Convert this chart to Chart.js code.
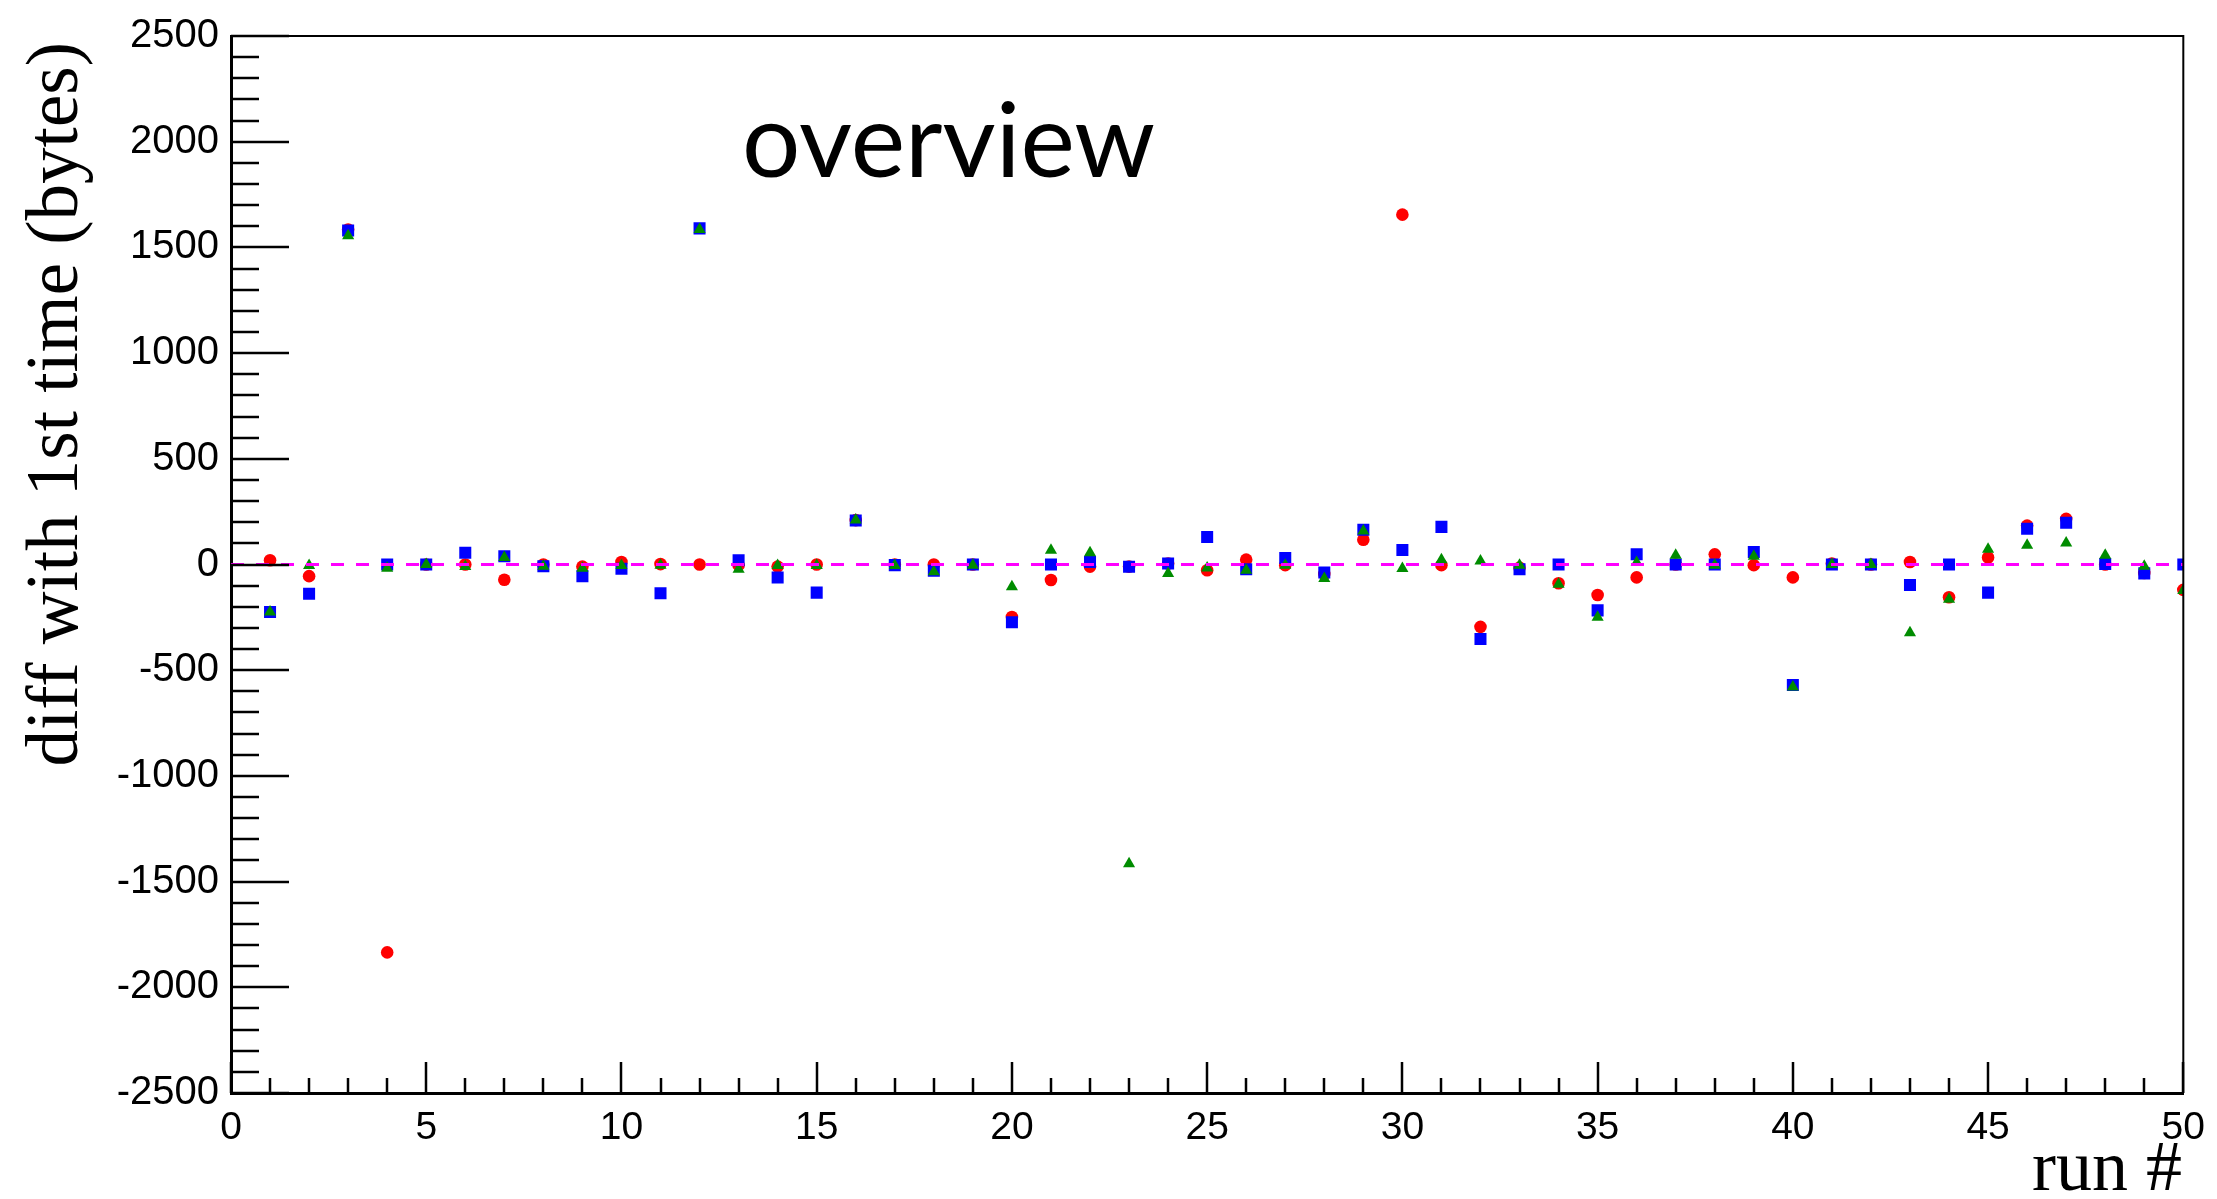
<!DOCTYPE html>
<html>
<head>
<meta charset="utf-8">
<script src="https://cdn.jsdelivr.net/npm/chart.js@4"></script>
<style>
  html, body { margin: 0; padding: 0; background: #fff; }
  #wrap { width: 2217px; height: 1199px; }
</style>
</head>
<body>
<div id="wrap"><canvas id="chart" width="2217" height="1199"></canvas></div>
<script>
// run numbers 1..50
const runs = [1, 2, 3, 4, 5, 6, 7, 8, 9, 10, 11, 12, 13, 14, 15, 16, 17, 18, 19, 20,
              21, 22, 23, 24, 25, 26, 27, 28, 29, 30, 31, 32, 33, 34, 35, 36, 37, 38, 39, 40,
              41, 42, 43, 44, 45, 46, 47, 48, 49, 50];

// red circles
const redDiff = [20, -55, 1585, -1835, 0, 0, -72, 0, -10, 12, 2, 0, -3, -10, 0, 210, 0, 0, 0, -248,
                 -73, -10, -10, 5, -27, 23, -3, -45, 117, 1655, -3, -295, -15, -89, -144, -61, 0, 48, -3, -61,
                 5, 0, 12, -155, 33, 184, 216, 0, -40, -120];

// blue squares
const blueDiff = [-225, -138, 1580, 0, 0, 56, 39, -8, -55, -20, -136, 1590, 20, -61, -133, 208, -3, -30, 0, -273,
                  0, 12, -11, 5, 130, -23, 31, -38, 164, 69, 178, -352, -23, 0, -217, 48, 0, 0, 59, -570,
                  0, 0, -97, 0, -133, 169, 197, 2, -42, 0];

// green triangles
const greenDiff = [-225, -5, 1555, -18, 0, -10, 33, -8, -18, -5, -3, 1585, -23, -5, -5, 211, -5, -34, -3, -105,
                   67, 55, -1415, -42, -16, -27, -3, -66, 158, -19, 23, 16, -3, -94, -250, 9, 44, -3, 39, -580,
                   0, 0, -323, -164, 72, 91, 102, 44, -8, -123];

// dashed zero line
const zeroLineX = [0, 50];
const zeroLineY = [0, 0];

const yTicks = [-2500, -2000, -1500, -1000, -500, 0, 500, 1000, 1500, 2000, 2500];
const xTicks = [0, 5, 10, 15, 20, 25, 30, 35, 40, 45, 50];

function toPoints(xs, ys) {
    return xs.map((x, i) => ({ x: x, y: ys[i] }));
}

// frame, inward ticks and free text, ROOT style
const rootStyle = {
    id: 'rootStyle',
    afterDraw(chart) {
        const ctx = chart.ctx;
        const area = chart.chartArea;
        const xs = chart.scales.x;
        const ys = chart.scales.y;
        ctx.save();

        // top + right frame
        ctx.strokeStyle = '#000';
        ctx.lineWidth = 2;
        ctx.beginPath();
        ctx.moveTo(area.left, area.top);
        ctx.lineTo(area.right, area.top);
        ctx.lineTo(area.right, area.bottom);
        ctx.stroke();

        // y ticks (major 500, minor 100)
        ctx.lineWidth = 2.5;
        ctx.beginPath();
        for (let v = -2500; v <= 2500; v += 100) {
            const py = Math.round(ys.getPixelForValue(v));
            const len = (v % 500 === 0) ? 58 : 28;
            ctx.moveTo(area.left, py);
            ctx.lineTo(area.left + len, py);
        }
        // x ticks (major 5, minor 1)
        for (let v = 0; v <= 50; v++) {
            const px = Math.round(xs.getPixelForValue(v));
            const len = (v % 5 === 0) ? 31 : 15;
            ctx.moveTo(px, area.bottom);
            ctx.lineTo(px, area.bottom - len);
        }
        ctx.stroke();

        ctx.fillStyle = '#000';
        // y title
        ctx.save();
        ctx.translate(77, 42);
        ctx.rotate(-Math.PI / 2);
        ctx.font = '73px "Liberation Serif"';
        ctx.textAlign = 'right';
        ctx.textBaseline = 'alphabetic';
        ctx.fillText('diff with 1st time (bytes)', 0, 0);
        ctx.restore();

        // x title
        ctx.font = '72px "Liberation Serif"';
        ctx.textAlign = 'right';
        ctx.textBaseline = 'alphabetic';
        ctx.fillText('run #', 2182, 1190);

        // label inside the plot
        ctx.font = '103px Lato';
        ctx.textAlign = 'left';
        ctx.fillText('overview', 742, 177);

        ctx.restore();
    }
};

const ctx = document.getElementById('chart').getContext('2d');
const chart = new Chart(ctx, {
    type: 'scatter',
    data: {
        datasets: [
            {
                type: 'line',
                label: 'zero',
                data: toPoints(zeroLineX, zeroLineY),
                borderColor: '#ff00ff',
                borderWidth: 3,
                borderDash: [13, 12],
                pointRadius: 0,
                fill: false,
                order: 0
            },
            {
                label: 'green',
                data: toPoints(runs, greenDiff),
                pointStyle: 'triangle',
                pointRadius: 7,
                backgroundColor: '#008c00',
                borderWidth: 0,
                order: 1
            },
            {
                label: 'blue',
                data: toPoints(runs, blueDiff),
                pointStyle: 'rect',
                pointRadius: 8.5,
                backgroundColor: '#0000ff',
                borderWidth: 0,
                order: 2
            },
            {
                label: 'red',
                data: toPoints(runs, redDiff),
                pointStyle: 'circle',
                pointRadius: 6.3,
                backgroundColor: '#ff0000',
                borderWidth: 0,
                order: 3
            }
        ]
    },
    options: {
        responsive: false,
        devicePixelRatio: 1,
        animation: false,
        layout: { padding: { top: 28, right: 33, left: 0, bottom: 0 } },
        plugins: {
            legend: { display: false },
            tooltip: { enabled: false }
        },
        scales: {
            x: {
                type: 'linear',
                min: 0,
                max: 50,
                afterFit: s => { s.height = 106; },
                afterBuildTicks: s => { s.ticks = xTicks.map(v => ({ value: v })); },
                grid: { display: false, drawTicks: false },
                border: { display: true, color: '#000', width: 3 },
                ticks: {
                    padding: 12,
                    color: '#000',
                    maxRotation: 0,
                    autoSkip: false,
                    callback: v => String(v),
                    font: { family: '"Liberation Sans"', size: 39 }
                }
            },
            y: {
                type: 'linear',
                min: -2500,
                max: 2500,
                afterFit: s => { s.width = 231; },
                afterBuildTicks: s => { s.ticks = yTicks.map(v => ({ value: v })); },
                grid: { display: false, drawTicks: false },
                border: { display: true, color: '#000', width: 3 },
                ticks: {
                    padding: 12,
                    color: '#000',
                    autoSkip: false,
                    callback: v => String(v),
                    font: { family: '"Liberation Sans"', size: 40 }
                }
            }
        }
    },
    plugins: [rootStyle]
});
</script>
</body>
</html>
